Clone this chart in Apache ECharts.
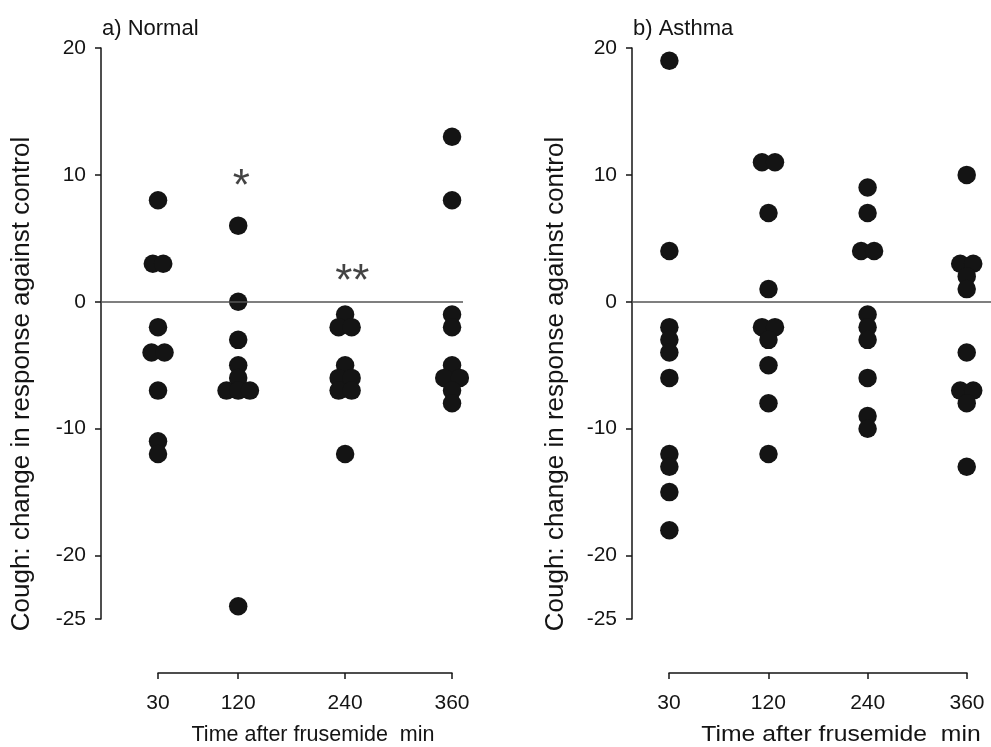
<!DOCTYPE html>
<html>
<head>
<meta charset="utf-8">
<script src="https://cdn.jsdelivr.net/npm/echarts@6/dist/echarts.min.js"></script>
<style>
    html, body { margin: 0; padding: 0; background: #fff; }
    #main { width: 991px; height: 747px; }
</style>
</head>
<body>
<div id="main"></div>
<script>
    // time points (min) and labels
    var times = [30, 120, 240, 360];
    var timeLabels = ['30', '120', '240', '360'];
    var yTicks = [-25, -20, -10, 0, 10, 20];

    // a) Normal - change in cough response against control
    var normal30  = [8, 3, 3, -2, -4, -4, -7, -11, -12];
    var normal120 = [6, 0, -3, -5, -6, -7, -7, -7, -24];
    var normal240 = [-1, -2, -2, -5, -6, -6, -7, -7, -12];
    var normal360 = [13, 8, -1, -2, -5, -6, -6, -7, -8];
    // how overlapping dots are spread sideways (-1 left, 0 centre, 1 right)
    var normal30Side  = [0, -0.8, 0.8, 0, -1, 1, 0, 0, 0];
    var normal120Side = [0, 0, 0, 0, 0, -1.8, 0, 1.8, 0];
    var normal240Side = [0, -1, 1, 0, -1, 1, -1, 1, 0];
    var normal360Side = [0, 0, 0, 0, 0, -1.2, 1.2, 0, 0];

    // b) Asthma
    var asthma30  = [19, 4, -2, -3, -4, -6, -12, -13, -15, -18];
    var asthma120 = [11, 11, 7, 1, -2, -2, -3, -5, -8, -12];
    var asthma240 = [9, 7, 4, 4, -1, -2, -3, -6, -9, -10];
    var asthma360 = [10, 3, 3, 2, 1, -4, -7, -7, -8, -13];
    var asthma30Side  = [0, 0, 0, 0, 0, 0, 0, 0, 0, 0];
    var asthma120Side = [-1, 1, 0, 0, -1, 1, 0, 0, 0, 0];
    var asthma240Side = [0, 0, -1, 1, 0, 0, 0, 0, 0, 0];
    var asthma360Side = [0, -1, 1, 0, 0, 0, -1, 1, 0, 0];

    // significance marks (normal panel)
    var sigTimes = [123.5, 248];
    var sigMarks = ['*', '**'];
    var sigLevel = [9.0, 1.5];

    var JIT = 6.5;          // px between overlapping dots
    var INK = '#141414';
    var FONT = 'Liberation Sans';

    function dots(x, vals, sides) {
        return vals.map(function (v, i) {
            return { value: [x, v], symbolOffset: [sides[i] * JIT, 0] };
        });
    }

    var normalData = [].concat(
        dots(times[0], normal30, normal30Side),
        dots(times[1], normal120, normal120Side),
        dots(times[2], normal240, normal240Side),
        dots(times[3], normal360, normal360Side)
    );
    // asthma panel has evenly spaced time points, so use their index
    var asthmaData = [].concat(
        dots(0, asthma30, asthma30Side),
        dots(1, asthma120, asthma120Side),
        dots(2, asthma240, asthma240Side),
        dots(3, asthma360, asthma360Side)
    );

    var lineStyle = { color: INK, width: 1.5 };
    var zeroLine = {
        silent: true,
        symbol: ['none', 'none'],
        label: { show: false },
        lineStyle: { color: '#555', width: 1.5, type: 'solid' },
        data: [{ yAxis: 0 }]
    };

    function valueAxis(grid) {
        return {
            gridIndex: grid, type: 'value', min: -25, max: 20,
            axisLine: { show: true, onZero: false, lineStyle: lineStyle },
            axisTick: { show: true, customValues: yTicks, length: 6, lineStyle: lineStyle },
            axisLabel: { customValues: yTicks, margin: 15, fontSize: 21, color: INK, fontFamily: FONT },
            splitLine: { show: false }
        };
    }

    function timeAxis(grid, min, max, ticks, fmt) {
        return {
            gridIndex: grid, type: 'value', min: min, max: max, position: 'bottom',
            axisLine: { show: true, onZero: false, lineStyle: lineStyle },
            axisTick: { show: true, customValues: ticks, length: 6, lineStyle: lineStyle },
            axisLabel: { customValues: ticks, margin: 20, fontSize: 21, color: INK, fontFamily: FONT, formatter: fmt },
            splitLine: { show: false }
        };
    }

    function textItem(x, y, str, size, rotate, stretch) {
        return {
            type: 'text', x: x, y: y, rotation: rotate ? Math.PI / 2 : 0,
            scaleX: stretch || 1,
            style: { text: str, font: size + 'px "Liberation Sans"', fill: INK, align: 'center', verticalAlign: 'middle' }
        };
    }

    var myChart = echarts.init(document.getElementById('main'));

    myChart.setOption({
        animation: false,
        backgroundColor: '#fff',
        textStyle: { fontFamily: FONT },
        title: [
            { text: 'a) Normal', left: 97, top: 13, textStyle: { fontSize: 22, fontWeight: 'normal', color: INK } },
            { text: 'b) Asthma', left: 628, top: 13, textStyle: { fontSize: 22, fontWeight: 'normal', color: INK } }
        ],
        grid: [
            { left: 101, top: 48, width: 362, height: 571, outerBoundsMode: 'none' },
            { left: 158, top: 672, width: 294, height: 1, outerBoundsMode: 'none' },
            { left: 632, top: 48, width: 359, height: 571, outerBoundsMode: 'none' },
            { left: 669, top: 672, width: 298, height: 1, outerBoundsMode: 'none' }
        ],
        xAxis: [
            // plot area spans a bit past 30..360 on both sides
            { gridIndex: 0, type: 'value', min: -34, max: 372.3, show: false },
            timeAxis(1, 30, 360, times),
            { gridIndex: 2, type: 'value', min: -0.377, max: 3.245, show: false },
            timeAxis(3, 0, 3, [0, 1, 2, 3], function (v) { return timeLabels[v]; })
        ],
        yAxis: [
            valueAxis(0),
            { gridIndex: 1, type: 'value', min: 0, max: 1, show: false },
            valueAxis(2),
            { gridIndex: 3, type: 'value', min: 0, max: 1, show: false }
        ],
        graphic: [
            textItem(22, 384, 'Cough: change in response against control', 26, true),
            textItem(556, 384, 'Cough: change in response against control', 26, true),
            textItem(313, 735, 'Time after frusemide  min', 21.5, false),
            // right panel caption is set wider in the original
            textItem(841, 735, 'Time after frusemide  min', 21.5, false, 1.15)
        ],
        series: [
            {
                name: 'Normal', type: 'scatter', xAxisIndex: 0, yAxisIndex: 0,
                symbolSize: 18.5, itemStyle: { color: INK, opacity: 1 },
                data: normalData, markLine: zeroLine
            },
            {
                name: 'Asthma', type: 'scatter', xAxisIndex: 2, yAxisIndex: 2,
                symbolSize: 18.5, itemStyle: { color: INK, opacity: 1 },
                data: asthmaData, markLine: zeroLine
            },
            {
                name: 'sig', type: 'scatter', xAxisIndex: 0, yAxisIndex: 0,
                symbolSize: 1, itemStyle: { color: 'rgba(0,0,0,0)' },
                data: sigTimes.map(function (t, i) { return [t, sigLevel[i]]; }),
                label: {
                    show: true, position: 'inside', fontSize: 44, color: INK, fontFamily: FONT,
                    formatter: function (p) { return sigMarks[p.dataIndex]; }
                }
            }
        ]
    });
</script>
</body>
</html>
